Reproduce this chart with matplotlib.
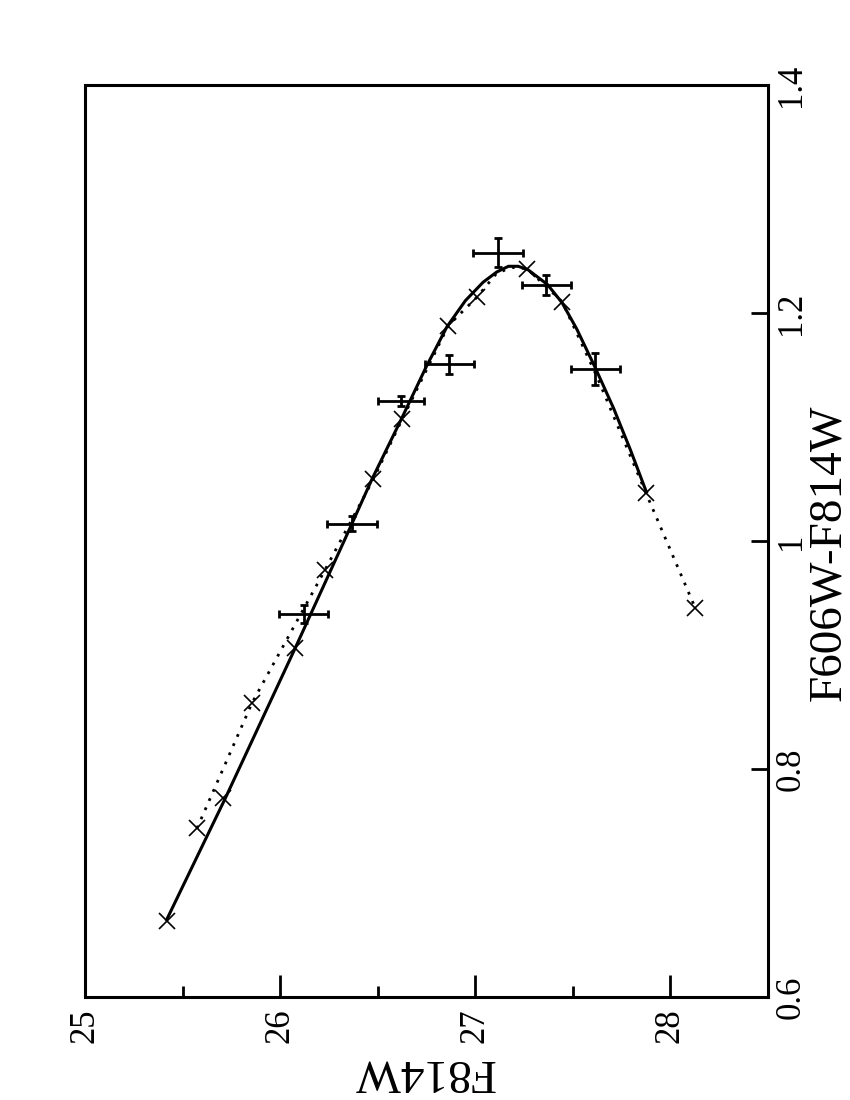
import matplotlib.pyplot as plt

plt.rcParams['font.family'] = ['Liberation Serif', 'DejaVu Serif']

# smooth fit curve (solid)
fit_mag = [25.419, 25.718, 26.077, 26.333, 26.47, 26.624, 26.749, 26.855, 26.95,
           27.04, 27.11, 27.17, 27.22, 27.27, 27.37, 27.445, 27.52, 27.615,
           27.71, 27.795, 27.877]
fit_col = [0.668, 0.774, 0.906, 1.002, 1.054, 1.108, 1.153, 1.188, 1.211,
           1.227, 1.236, 1.241, 1.241, 1.238, 1.225, 1.209, 1.186, 1.152,
           1.116, 1.080, 1.043]

# model isochrone (dotted)
iso_mag = [25.574, 25.856, 26.231, 26.477, 26.626, 26.862, 27.009, 27.11, 27.188,
           27.265, 27.445, 27.624, 27.875, 28.128]
iso_col = [0.748, 0.858, 0.975, 1.054, 1.107, 1.189, 1.214, 1.235, 1.240,
           1.239, 1.210, 1.144, 1.042, 0.941]

# model points (crosses)
pt_mag = [25.42, 25.574, 25.708, 25.856, 26.077, 26.231, 26.477, 26.626, 26.862,
          27.009, 27.265, 27.445, 27.875, 28.128]
pt_col = [0.667, 0.748, 0.775, 0.858, 0.906, 0.975, 1.054, 1.107, 1.189,
          1.214, 1.239, 1.210, 1.042, 0.941]

# observed points with errors
obs_mag = [26.12, 26.368, 26.619, 26.867, 27.118, 27.364, 27.615]
obs_col = [0.936, 1.015, 1.123, 1.155, 1.253, 1.225, 1.151]
obs_xerr = [0.125, 0.127, 0.12, 0.124, 0.128, 0.126, 0.125]
obs_yerr = [0.0078, 0.0066, 0.0044, 0.0085, 0.0127, 0.0088, 0.014]

fig = plt.figure(figsize=(8.5, 11), dpi=100)
ax = fig.add_axes([0.1, 0.0936, 0.8035, 0.8291])

ax.plot(fit_mag, fit_col, color='black', lw=2.2, solid_joinstyle='round')
ax.plot(iso_mag, iso_col, color='black', lw=2.0, dashes=(1, 2.6))
ax.plot(pt_mag, pt_col, 'x', color='black', ms=11, mew=1.2)
ax.errorbar(obs_mag, obs_col, xerr=obs_xerr, yerr=obs_yerr, fmt='none',
            ecolor='black', elinewidth=2.0, capsize=3, capthick=2.0)

ax.set_xlim(25, 28.5)
ax.set_ylim(0.6, 1.4)
ax.set_xticks([25, 26, 27, 28])
ax.set_xticklabels(['25', '26', '27', '28'])
ax.set_xticks([25.5, 26.5, 27.5], minor=True)
ax.set_yticks([0.6, 0.8, 1.0, 1.2, 1.4])
ax.set_yticklabels(['0.6', '0.8', '1', '1.2', '1.4'])

ax.yaxis.tick_right()
ax.tick_params(axis='x', which='major', direction='in', length=16, width=2,
               labelsize=25, labelrotation=90, pad=8)
ax.tick_params(axis='x', which='minor', direction='in', length=8, width=2)
ax.tick_params(axis='y', which='major', direction='in', length=12, width=2,
               labelsize=25, labelrotation=90, pad=5)
for lab in ax.get_yticklabels():
    lab.set_verticalalignment('center')

for sp in ax.spines.values():
    sp.set_linewidth(2.2)

# axis titles placed by hand so they stay inside the page
fig.text(424 / 850, 1 - 1072 / 1100, 'F814W', fontsize=34, rotation=180,
         ha='center', va='center')
fig.text(829 / 850, 1 - 553 / 1100, 'F606W-F814W', fontsize=34, rotation=90,
         ha='center', va='center')

fig.savefig('out.png', dpi=100)
